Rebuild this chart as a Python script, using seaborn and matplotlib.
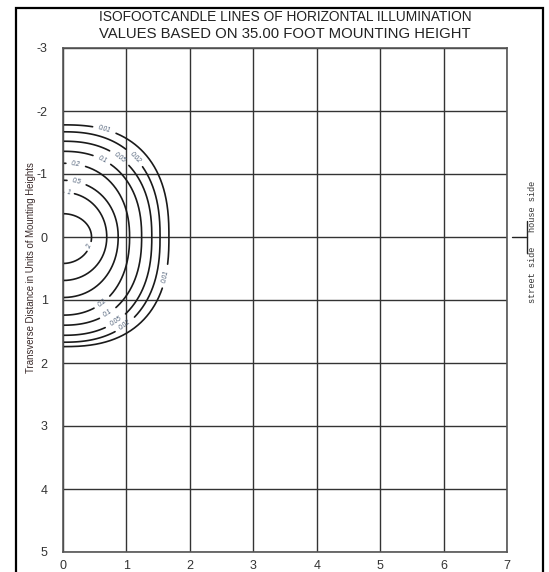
import numpy as np
import pandas as pd
import matplotlib
matplotlib.use("Agg")
import matplotlib.pyplot as plt
import seaborn as sns
from matplotlib.patches import Rectangle

# isofootcandle levels and how far each line reaches (units of mounting height)
levels = ["2", "1", "0.5", "0.2", "0.1", "0.05", "0.02", "0.01"]
reach_x = [0.45, 0.69, 0.87, 1.05, 1.24, 1.40, 1.53, 1.67]
reach_top = [0.37, 0.71, 0.90, 1.17, 1.36, 1.52, 1.67, 1.78]
reach_bottom = [0.42, 0.69, 0.96, 1.24, 1.40, 1.56, 1.67, 1.74]
squareness = [2.0, 2.05, 2.1, 2.2, 2.3, 2.35, 2.4, 2.5]

# where the level labels sit on the lines
label_text = ["2", "1", "0.5", "0.2", "0.1", "0.05", "0.02", "0.01",
              "0.2", "0.1", "0.05", "0.02", "0.01"]
label_x = [0.44, 0.09, 0.22, 0.20, 0.59, 0.88, 1.17, 0.66, 0.61, 0.68, 0.82, 1.06, 1.63]
label_y = [0.16, -0.68, -0.89, -1.16, -1.18, -1.24, -1.30, -1.73, 1.03, 1.17, 1.32, 1.50, 0.63]

x_ticks = [0, 1, 2, 3, 4, 5, 6, 7]
y_ticks = [-3, -2, -1, 0, 1, 2, 3, 4, 5]

# build each isoline from its reaches
t = np.linspace(-np.pi / 2, np.pi / 2, 600)
curves = {}
for lev, a, bt, bb, n in zip(levels, reach_x, reach_top, reach_bottom, squareness):
    cx = a * np.abs(np.cos(t)) ** (2 / n)
    s = np.abs(np.sin(t)) ** (2 / n)
    cy = np.where(t < 0, -bt * s, bb * s)
    curves[lev] = [cx, cy, np.ones_like(cx, dtype=bool)]

label_pos = []
for txt, lx, ly in zip(label_text, label_x, label_y):
    cx, cy, keep = curves[txt]
    i = int(np.argmin((cx - lx) ** 2 + (cy - ly) ** 2))
    px, py = cx[i], cy[i]
    gap = 0.05 + 0.035 * len(txt)
    keep &= np.hypot(cx - px, cy - py) > gap
    j0, j1 = max(i - 3, 0), min(i + 3, len(cx) - 1)
    ang = np.degrees(np.arctan2(-(cy[j1] - cy[j0]), cx[j1] - cx[j0]))
    if ang > 90:
        ang -= 180
    if ang < -90:
        ang += 180
    label_pos.append((txt, px, py, ang))

rows = []
seg = 0
for lev in levels:
    cx, cy, keep = curves[lev]
    prev = False
    for xx, yy, k in zip(cx, cy, keep):
        if k and not prev:
            seg += 1
        if k:
            rows.append({"x": xx, "y": yy, "seg": seg})
        prev = k
df = pd.DataFrame(rows)

sns.set_style("white")
plt.rcParams["font.family"] = ["Liberation Sans", "DejaVu Sans"]

fig = plt.figure(figsize=(5.49, 5.72), dpi=100)
ax = fig.add_axes([63 / 549, 1 - 552 / 572, 444 / 549, 504 / 572])

sns.lineplot(data=df, x="x", y="y", units="seg", estimator=None, sort=False,
             color="#1a1a1a", linewidth=1.2, ax=ax)

for txt, px, py, ang in label_pos:
    ax.text(px, py, txt, fontsize=4.8, color="#4f6078", style="italic",
            rotation=ang, ha="center", va="center", rotation_mode="anchor")

ax.set_xlim(0, 7)
ax.set_ylim(5, -3)
ax.set_xticks(x_ticks)
ax.set_yticks(y_ticks)
ax.set_xticklabels([str(v) for v in x_ticks])
ax.set_yticklabels([str(v) for v in y_ticks])
ax.tick_params(axis="both", length=0, labelsize=9, colors="#333333")
ax.tick_params(axis="y", pad=11)
ax.tick_params(axis="x", pad=6)
ax.grid(True, color="#333333", linewidth=1.0)
for sp in ax.spines.values():
    sp.set_color("#555555")
    sp.set_linewidth(1.2)

ax.set_xlabel("Longitudinal Distance in Units of Mounting Heights", fontsize=8, color="#333333", labelpad=0)
ax.set_ylabel("")
fig.text(31 / 549, 1 - 268 / 572, "Transverse Distance in Units of Mounting Heights",
         rotation=90, ha="center", va="center", fontsize=6.9, color="#3a2a2a")

# street / house side marker
ax.plot([7.08, 7.32], [0, 0], color="#222222", lw=1, clip_on=False)
ax.plot([7.32, 7.32], [-0.25, 0.25], color="#222222", lw=1, clip_on=False)
ax.text(7.40, -0.48, "house side", rotation=90, ha="center", va="center",
        fontsize=6.2, family="Liberation Mono", color="#333333", clip_on=False)
ax.text(7.40, 0.60, "street side", rotation=90, ha="center", va="center",
        fontsize=6.2, family="Liberation Mono", color="#333333", clip_on=False)

fig.text(0.519, 1 - 17 / 572, "ISOFOOTCANDLE LINES OF HORIZONTAL ILLUMINATION",
         ha="center", va="center", fontsize=9.9, color="#222222")
fig.text(0.519, 1 - 34 / 572, "VALUES BASED ON 35.00 FOOT MOUNTING HEIGHT",
         ha="center", va="center", fontsize=10.7, color="#222222")

fig.patches.append(Rectangle((16 / 549, -0.05), 527 / 549, 1.05 - 8 / 572,
                             transform=fig.transFigure, fill=False,
                             edgecolor="black", linewidth=1.6))

fig.savefig("out.png", dpi=100)
